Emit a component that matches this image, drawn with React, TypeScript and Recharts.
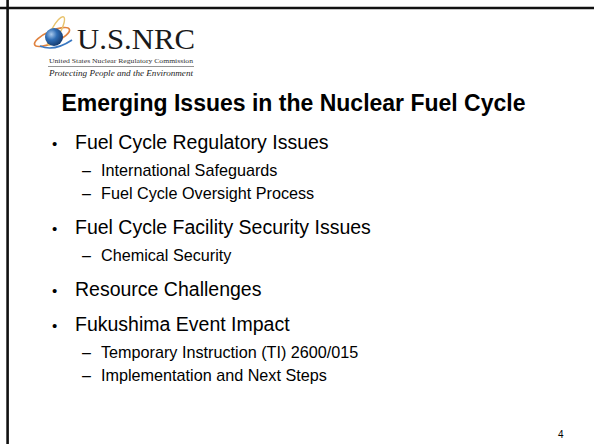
import React from "react"
import { ScatterChart, Scatter, XAxis, YAxis, ReferenceLine, Customized } from "recharts"

const title = "Emerging Issues in the Nuclear Fuel Cycle"
const topics = [
  "Fuel Cycle Regulatory Issues",
  "Fuel Cycle Facility Security Issues",
  "Resource Challenges",
  "Fukushima Event Impact",
]
const subtopics = [
  ["International Safeguards", "Fuel Cycle Oversight Process"],
  ["Chemical Security"],
  [],
  ["Temporary Instruction (TI) 2600/015", "Implementation and Next Steps"],
]
const agency = "U.S.NRC"
const agencyName = "United States Nuclear Regulatory Commission"
const motto = "Protecting People and the Environment"
const pageNumber = "4"

const W = 594
const H = 444
const SANS = '"Liberation Sans", Arial, sans-serif'
const SERIF = '"Liberation Serif", "Times New Roman", serif'

// outline layout (px)
const FIRST_LINE = 148.5
const GAP_TOPIC = 35
const GAP_SUB_FIRST = 27
const GAP_SUB = 23
const INDENT = [75, 101]

interface Row {
  x: number
  y: number
  level: number
  text: string
}

function buildRows(): Row[] {
  const rows: Row[] = []
  let y = FIRST_LINE
  topics.forEach((t, i) => {
    if (i > 0) y += GAP_TOPIC
    rows.push({ x: INDENT[0], y, level: 0, text: t })
    subtopics[i].forEach((s, j) => {
      y += j === 0 ? GAP_SUB_FIRST : GAP_SUB
      rows.push({ x: INDENT[1], y, level: 1, text: s })
    })
  })
  return rows
}

const rows = buildRows()

const OutlineRow = (props: any) => {
  const { cx, cy, payload } = props
  if (payload.level === 0) {
    return (
      <g>
        <text x={cx - 23} y={cy} fontFamily={SANS} fontSize={15} fill="#000">•</text>
        <text x={cx} y={cy} fontFamily={SANS} fontSize={19.5} fill="#000">{payload.text}</text>
      </g>
    )
  }
  return (
    <g>
      <text x={cx - 19} y={cy} fontFamily={SANS} fontSize={16} fill="#000">–</text>
      <text x={cx} y={cy} fontFamily={SANS} fontSize={16.2} fill="#000">{payload.text}</text>
    </g>
  )
}

const SlideChrome = () => (
  <g>
    <defs>
      <radialGradient id="globe" cx="0.35" cy="0.35" r="0.7">
        <stop offset="0%" stopColor="#a9c9ec" />
        <stop offset="45%" stopColor="#2f6db5" />
        <stop offset="100%" stopColor="#14386b" />
      </radialGradient>
    </defs>
    {/* logo */}
    <ellipse cx={52} cy={37} rx={19} ry={6} fill="none" stroke="#e0823f" strokeWidth={1.7} transform="rotate(-24 52 37)" />
    <ellipse cx={56} cy={31} rx={16} ry={4.5} fill="none" stroke="#e8c36e" strokeWidth={1.4} transform="rotate(-62 56 31)" />
    <circle cx={54} cy={37} r={9} fill="url(#globe)" />
    <path d="M40 46 Q54 52 72 40" fill="none" stroke="#3a78c2" strokeWidth={1.7} />
    <text x={77} y={49} fontFamily={SERIF} fontSize={30} fill="#1a1a1a" textLength={118} lengthAdjust="spacingAndGlyphs">{agency}</text>
    <text x={49} y={63} fontFamily={SERIF} fontSize={6.2} fill="#333" textLength={144} lengthAdjust="spacingAndGlyphs">{agencyName}</text>
    <line x1={48} x2={194} y1={66.5} y2={66.5} stroke="#666" strokeWidth={0.7} />
    <text x={49} y={75.5} fontFamily={SERIF} fontStyle="italic" fontSize={8} fill="#222" textLength={144} lengthAdjust="spacingAndGlyphs">{motto}</text>
    {/* title and page number */}
    <text x={293.5} y={110.5} textAnchor="middle" fontFamily={SANS} fontWeight="bold" fontSize={23} fill="#000">{title}</text>
    <text x={558} y={438} fontFamily={SANS} fontSize={10} fill="#000">{pageNumber}</text>
  </g>
)

export default function App() {
  return (
    <div style={{ position: "absolute", left: 0, top: 0, width: W, height: H, background: "#fff" }}>
      <ScatterChart width={W} height={H} margin={{ top: 0, right: 0, bottom: 0, left: 0 }}>
        <XAxis type="number" dataKey="x" domain={[0, W]} hide />
        <YAxis type="number" dataKey="y" domain={[0, H]} reversed hide />
        <ReferenceLine y={8} stroke="#111" strokeWidth={2.6} />
        <ReferenceLine x={7.6} stroke="#111" strokeWidth={2.6} />
        <Customized component={SlideChrome} />
        <Scatter data={rows} shape={OutlineRow} isAnimationActive={false} />
      </ScatterChart>
    </div>
  )
}
